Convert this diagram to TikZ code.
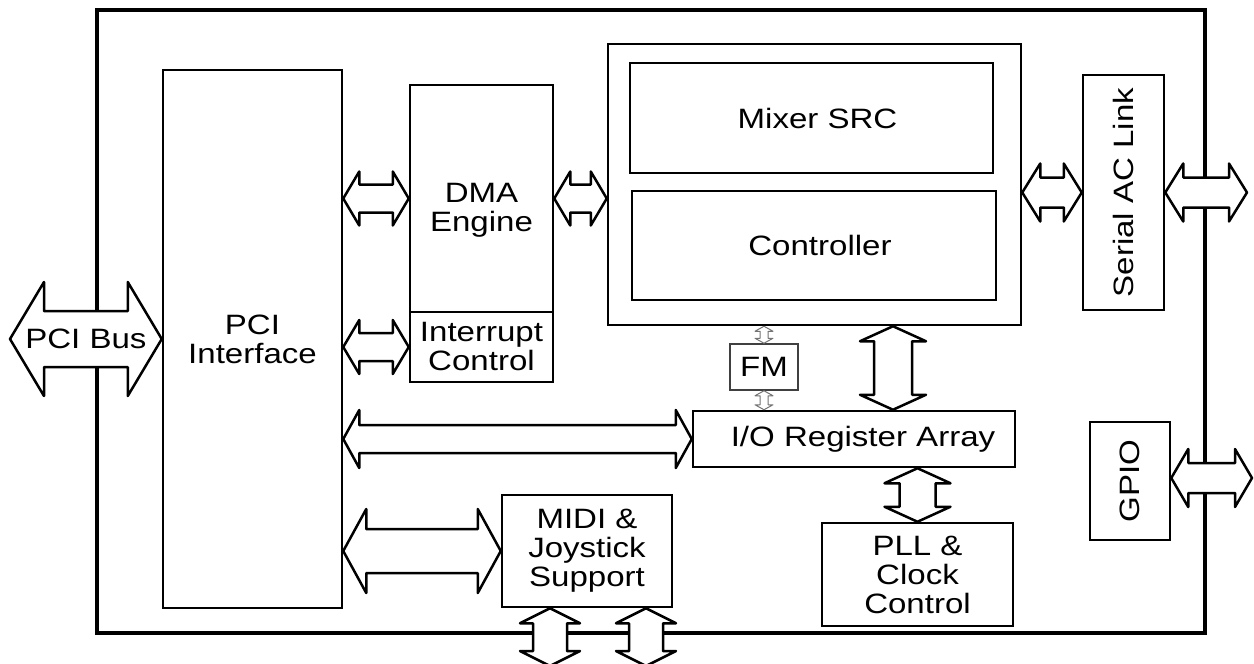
\documentclass[tikz,border=0pt]{standalone}
\usepackage{fontspec}
\setmainfont{Liberation Sans}[FakeStretch=1.18]
\usetikzlibrary{calc}

% double headed bus arrows: [style]{from}{to}{shaft half}{head half}{head length}
\newcommand{\hbus}[6][]{%
  \draw[bus,#1] let \p1=(#2), \p2=(#3) in
    (\x1,\y1) -- (\x1+#6,\y1+#5) -- (\x1+#6,\y1+#4) -- (\x2-#6,\y1+#4) -- (\x2-#6,\y1+#5)
    -- (\x2,\y1) -- (\x2-#6,\y1-#5) -- (\x2-#6,\y1-#4) -- (\x1+#6,\y1-#4) -- (\x1+#6,\y1-#5) -- cycle;}
\newcommand{\vbus}[6][]{%
  \draw[bus,#1] let \p1=(#2), \p2=(#3) in
    (\x1,\y1) -- (\x1+#5,\y1-#6) -- (\x1+#4,\y1-#6) -- (\x1+#4,\y2+#6) -- (\x1+#5,\y2+#6)
    -- (\x1,\y2) -- (\x1-#5,\y2+#6) -- (\x1-#4,\y2+#6) -- (\x1-#4,\y1-#6) -- (\x1-#5,\y1-#6) -- cycle;}

\begin{document}
\begin{tikzpicture}[x=1pt,y=-1pt,
    box/.style={draw, line width=2.5pt, align=center, inner sep=0pt},
    bus/.style={draw, fill=white, line width=2.5pt, line join=round},
    font=\fontsize{28}{29}\selectfont]
\useasboundingbox (0,0) rectangle (1254,664);

\node[draw, line width=4.5pt, minimum width=1108pt, minimum height=623pt] (chip) at (651,321.5) {};

\node[box, minimum width=179pt, minimum height=538pt] (pci) at (252.5,339) {PCI\\Interface};
\node[box, minimum width=143pt, minimum height=227pt,
      label={[align=center,yshift=-12pt]center:DMA\\Engine}] (dma) at (481.5,198.5) {};
\node[box, minimum width=143pt, minimum height=70pt] (irq) at (481.5,347) {Interrupt\\Control};
\node[box, minimum width=413pt, minimum height=281pt] (mix) at (814.5,184.5) {};
\node[box, minimum width=363pt, minimum height=110pt] (mixer) at (811.5,118) {\hspace*{12pt}Mixer SRC};
\node[box, minimum width=364pt, minimum height=109pt] (ctrl) at (814,245.5) {\hspace*{12pt}Controller};
\node[box, minimum width=81pt, minimum height=235pt,
      label={[rotate=90]center:Serial AC Link}] (serial) at (1123.5,192.5) {};
\node[box, minimum width=80pt, minimum height=118pt,
      label={[rotate=90]center:GPIO}] (gpio) at (1130,481) {};
\node[box, line width=1.5pt, draw=black!75, minimum width=68pt, minimum height=46pt] (fm) at (764,367) {FM};
\node[box, minimum width=322pt, minimum height=56pt] (ioreg) at (854,439) {\hspace*{18pt}I/O Register Array};
\node[box, minimum width=170pt, minimum height=112pt] (midi) at (587,551) {MIDI \&\\Joystick\\Support};
\node[box, minimum width=191pt, minimum height=103pt] (pll) at (917.5,574.5) {PLL \&\\Clock\\Control};

\coordinate (busend) at (10,339);
\coordinate (acout) at (1247,192.5);
\coordinate (gpioout) at (1252,478);
\coordinate (joyA) at (550,666);
\coordinate (joyB) at (646,666);

% buses
\hbus{busend}{pci.west}{28pt}{57pt}{34pt}
\node at ($(busend)!0.5!(pci.west)$) {PCI Bus};
\hbus{pci.east |- dma.west}{dma.west}{14pt}{27pt}{16pt}
\hbus{pci.east |- irq.west}{irq.west}{14pt}{27pt}{16pt}
\hbus{dma.east}{mix.west |- dma.east}{14pt}{27pt}{16pt}
\hbus{pci.east |- ioreg.west}{ioreg.west}{14pt}{29pt}{16pt}
\hbus{pci.east |- midi.west}{midi.west}{22pt}{42pt}{23pt}
\hbus{mix.east |- serial.west}{serial.west}{15pt}{29pt}{18pt}
\hbus{serial.east}{acout}{15pt}{29pt}{18pt}
\hbus{gpio.east |- gpioout}{gpioout}{15pt}{29pt}{17pt}
\vbus{893,0 |- mix.south}{893,0 |- ioreg.north}{19pt}{33pt}{15pt}
\vbus{pll.north |- ioreg.south}{pll.north}{18pt}{33pt}{15pt}
\vbus{joyA |- midi.south}{joyA}{17pt}{30pt}{15pt}
\vbus{joyB |- midi.south}{joyB}{17pt}{30pt}{15pt}
\vbus[line width=1pt, draw=black!55]{fm.north |- mix.south}{fm.north}{4pt}{9pt}{5pt}
\vbus[line width=1pt, draw=black!55]{fm.south}{fm.south |- ioreg.north}{4pt}{9pt}{5pt}
\end{tikzpicture}
\end{document}
